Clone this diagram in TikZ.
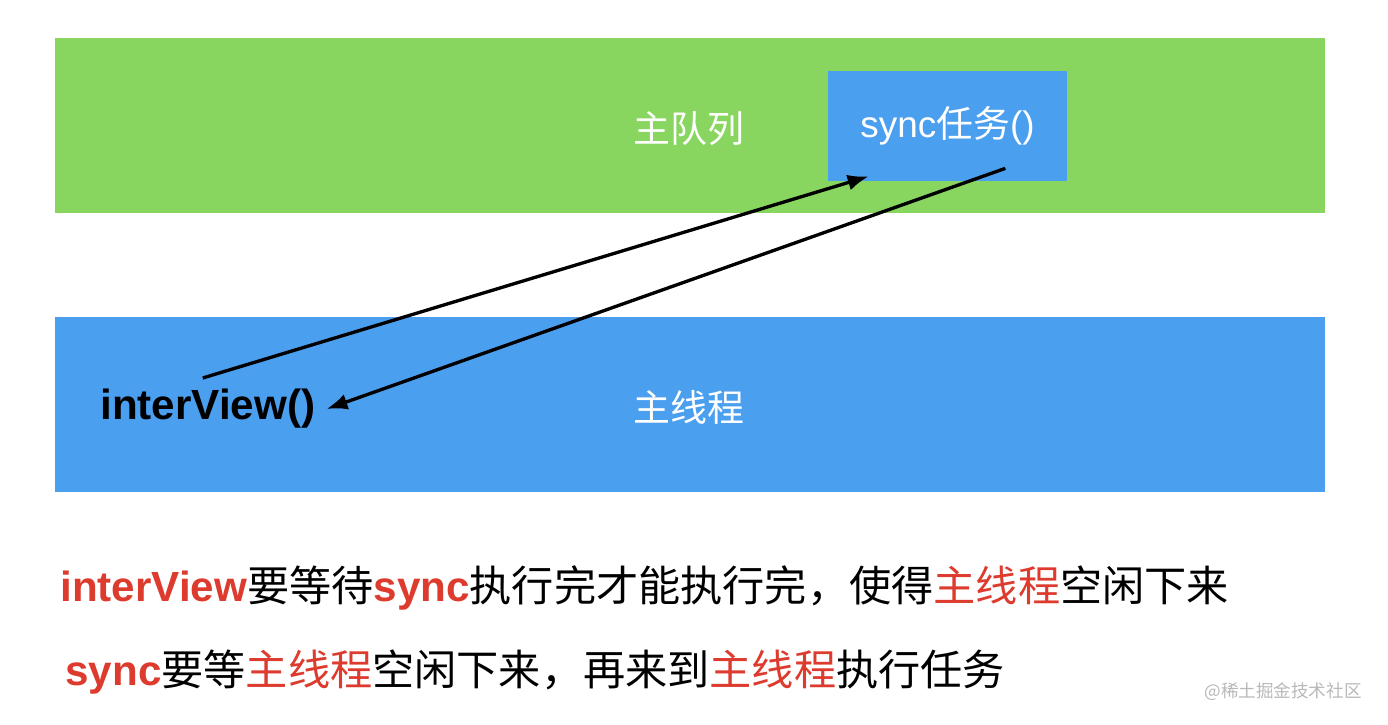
\documentclass[tikz,border=0pt]{standalone}
\usepackage{fontspec}
\setmainfont{Liberation Sans}
\newfontfamily\cjk{Noto Sans CJK SC}
\usepackage{xcolor}
\usetikzlibrary{arrows.meta, positioning, calc}

\definecolor{queuegreen}{HTML}{88D660}
\definecolor{threadblue}{HTML}{4B9FEF}
\definecolor{notered}{HTML}{DD3B2E}
\newcommand{\redword}[1]{\textcolor{notered}{#1}}

\begin{document}
\begin{tikzpicture}[
    band/.style={rectangle, minimum width=25.4cm, minimum height=3.5cm, inner sep=0pt, outer sep=0pt},
    taskbox/.style={rectangle, fill=threadblue, minimum width=4.78cm, minimum height=2.2cm, inner sep=0pt, text=white, font=\fontsize{21}{24}\selectfont},
    bandtext/.style={text=white, font=\fontsize{21}{24}\selectfont\cjk},
    callarrow/.style={draw, -{Latex[length=0.42cm, width=0.32cm]}, line width=1.9pt, color=black},
    note/.style={anchor=west, inner sep=0pt, font=\fontsize{24}{28}\selectfont}
]
    \useasboundingbox[fill=white] (0,0) rectangle (27.76,14.48);

    % the two bands
    \node[band, fill=queuegreen] (mainQueue) at (13.8,11.97) {};
    \node[band, fill=threadblue] (mainThread) at (13.8,6.39) {};

    \node[bandtext] (queueText) at (13.78,11.9) {主队列};
    \node[bandtext] (threadText) at (13.78,6.34) {主线程};

    \node[taskbox] (syncTask) at (18.95,11.96) {\raisebox{-0.06cm}{sync{\cjk 任务}()}};
    \node[anchor=west, inner sep=0pt, font=\fontsize{24}{28}\selectfont\bfseries] (interView) at (2.0,6.3) {interView()};

    % call and wait
    \draw[callarrow] ([xshift=-0.1cm, yshift=0.22cm]interView.north) -- ([xshift=0.82cm, yshift=0.1cm]syncTask.south west);
    \draw[callarrow] ([xshift=-1.24cm, yshift=0.26cm]syncTask.south east) -- ([xshift=0.22cm]interView.east);

    % explanation
    \node[note] (noteOne) at (1.2,2.72) {{\bfseries\redword{interView}}{\cjk 要等待}{\bfseries\redword{sync}}{\cjk 执行完才能执行完，使得\redword{主线程}空闲下来}};
    \node[note] (noteTwo) at (1.3,1.04) {{\bfseries\redword{sync}}{\cjk 要等\redword{主线程}空闲下来，再来到\redword{主线程}执行任务}};

    \node[anchor=east, inner sep=0pt, text=gray!55, font=\fontsize{10}{12}\selectfont\cjk] (mark) at (27.24,0.64) {@稀土掘金技术社区};
\end{tikzpicture}
\end{document}
